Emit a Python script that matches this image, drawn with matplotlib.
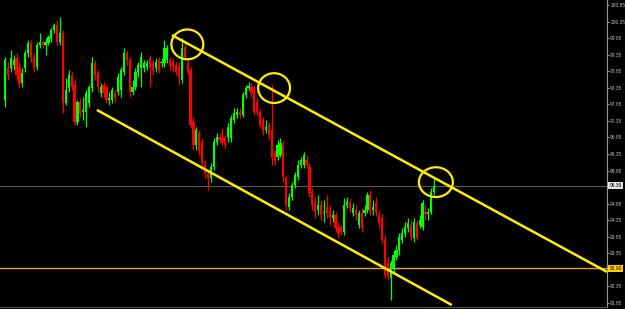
import matplotlib
matplotlib.use("Agg")
import matplotlib.pyplot as plt
import matplotlib.transforms as mtransforms
from matplotlib.patches import Ellipse
import numpy as np

# OHLC candles (price units)
opens = [97.98, 98.95, 98.95, 99.04, 99.25, 98.98, 98.49, 98.95, 99.40, 99.70,
         99.28, 98.98, 99.64, 99.73, 99.64, 99.70, 99.85, 100.09, 100.25, 99.73,
         100.00, 97.89, 98.34, 98.73, 98.43, 97.32, 97.92, 97.62, 97.62, 97.89,
         98.34, 99.10, 98.80, 98.19, 98.43, 98.37, 97.98, 97.98, 98.19, 98.22,
         98.28, 98.83, 99.40, 99.19, 98.22, 98.37, 98.83, 98.95, 98.95, 98.98,
         99.25, 99.10, 98.95, 99.19, 99.10, 99.10, 99.19, 99.19, 99.13, 99.04,
         98.98, 98.58, 99.58, 99.10, 98.89, 97.32, 96.62, 96.98, 96.71, 96.02,
         95.78, 95.62, 95.96, 96.71, 96.86, 96.83, 96.83, 96.86, 96.83, 97.38,
         97.53, 97.62, 97.53, 98.13, 98.34, 98.37, 98.34, 97.92, 97.62, 97.38,
         97.07, 97.23, 97.07, 96.38, 96.26, 96.32, 96.62, 95.62, 94.75, 95.05,
         95.41, 95.65, 96.02, 96.02, 96.17, 95.96, 95.20, 94.87, 94.66, 94.81,
         94.57, 94.75, 94.66, 94.42, 94.51, 94.15, 94.12, 93.99, 94.81, 94.90,
         94.57, 94.66, 94.21, 94.57, 94.57, 94.66, 95.11, 94.66, 94.87, 94.51,
         94.42, 93.75, 93.06, 92.60, 92.91, 93.24, 93.45, 93.75, 93.96, 94.12,
         94.21, 93.81, 94.27, 94.21, 94.15, 94.60, 94.54, 94.60, 95.20]
highs = [99.28, 99.13, 99.49, 99.34, 99.40, 99.13, 98.95, 99.49, 99.79, 99.79,
         99.40, 99.73, 100.00, 99.79, 99.85, 99.94, 100.15, 100.31, 100.40, 100.49,
         100.09, 98.64, 98.89, 98.83, 98.58, 97.98, 98.04, 98.07, 98.28, 98.43,
         99.28, 99.19, 98.89, 98.49, 98.52, 98.43, 98.22, 98.37, 98.28, 98.80,
         98.98, 99.55, 99.49, 99.28, 98.58, 98.95, 99.13, 99.43, 99.19, 99.19,
         99.34, 99.19, 99.25, 99.28, 99.25, 99.79, 99.64, 99.28, 99.25, 99.13,
         99.13, 99.85, 99.70, 99.25, 98.98, 97.47, 97.17, 97.07, 96.83, 96.17,
         95.87, 96.08, 96.83, 96.98, 96.98, 97.13, 96.92, 97.29, 97.53, 97.74,
         97.74, 97.74, 98.22, 98.43, 98.52, 98.49, 98.43, 98.04, 97.74, 97.47,
         97.38, 97.32, 98.43, 96.47, 96.77, 96.83, 96.77, 95.72, 95.17, 95.50,
         95.81, 96.17, 96.26, 96.41, 96.32, 96.08, 95.32, 95.05, 95.11, 94.96,
         94.96, 95.11, 94.81, 94.66, 94.60, 94.30, 94.21, 95.02, 95.05, 95.02,
         94.87, 94.81, 94.66, 94.72, 94.81, 95.20, 95.26, 94.96, 95.05, 94.66,
         94.54, 93.90, 93.24, 93.15, 93.45, 93.60, 93.96, 94.12, 94.30, 94.42,
         94.36, 94.42, 94.36, 94.51, 94.96, 94.81, 94.72, 95.32, 95.62]
lows = [97.77, 98.58, 98.83, 98.89, 98.58, 98.34, 98.37, 98.83, 99.28, 99.13,
        98.83, 98.89, 99.55, 99.55, 99.34, 99.64, 99.73, 100.00, 99.64, 99.64,
        97.59, 97.83, 98.22, 98.28, 97.23, 97.23, 97.47, 97.38, 97.17, 97.77,
        98.22, 98.58, 98.22, 98.07, 98.07, 97.89, 97.83, 97.89, 97.92, 98.13,
        98.07, 98.73, 99.04, 98.07, 98.13, 98.28, 98.67, 98.37, 98.83, 98.89,
        98.37, 98.73, 98.83, 98.80, 98.98, 98.98, 99.10, 98.89, 98.83, 98.73,
        98.43, 98.49, 99.19, 98.73, 97.13, 96.47, 96.47, 96.32, 95.93, 95.62,
        95.26, 95.50, 95.87, 96.62, 96.68, 96.62, 96.53, 96.71, 96.71, 97.29,
        97.44, 97.44, 97.47, 98.04, 98.28, 98.07, 97.53, 97.50, 97.13, 96.92,
        96.98, 96.77, 96.02, 96.02, 96.17, 96.26, 95.50, 94.66, 94.66, 94.96,
        95.32, 95.56, 95.93, 95.93, 95.93, 95.05, 94.66, 94.42, 94.51, 94.36,
        94.30, 94.42, 94.21, 94.30, 93.99, 93.81, 93.90, 93.90, 94.72, 94.60,
        94.48, 94.36, 94.12, 93.99, 94.48, 94.57, 94.51, 94.51, 94.48, 94.15,
        93.66, 92.60, 92.54, 91.94, 92.79, 93.15, 93.30, 93.66, 93.84, 93.99,
        93.75, 93.69, 93.75, 94.12, 94.05, 94.36, 94.36, 94.54, 95.11]
closes = [99.19, 98.73, 99.25, 99.19, 98.73, 98.49, 98.80, 99.40, 99.70, 99.28,
          98.95, 99.64, 99.73, 99.64, 99.73, 99.88, 100.09, 100.25, 99.73, 100.00,
          97.89, 98.28, 98.73, 98.37, 97.32, 97.92, 97.59, 97.68, 98.19, 98.37,
          99.10, 98.73, 98.37, 98.37, 98.19, 97.98, 98.04, 98.28, 98.04, 98.67,
          98.89, 99.40, 99.19, 98.22, 98.37, 98.83, 99.04, 99.28, 99.10, 99.10,
          98.95, 98.89, 99.13, 98.89, 99.13, 99.55, 99.55, 99.01, 98.98, 98.83,
          98.64, 99.55, 99.28, 98.83, 97.23, 96.62, 97.07, 96.47, 96.08, 95.78,
          95.62, 95.96, 96.71, 96.86, 96.77, 96.71, 96.62, 97.17, 97.44, 97.59,
          97.62, 97.53, 98.13, 98.34, 98.40, 98.19, 97.62, 97.62, 97.23, 97.07,
          97.17, 96.92, 96.23, 96.17, 96.62, 96.68, 95.65, 94.81, 95.05, 95.41,
          95.72, 96.02, 96.17, 96.32, 96.02, 95.17, 94.81, 94.60, 94.81, 94.51,
          94.60, 94.57, 94.42, 94.51, 94.12, 93.96, 94.02, 94.81, 94.90, 94.72,
          94.72, 94.51, 94.57, 94.12, 94.66, 95.11, 94.60, 94.75, 94.60, 94.27,
          93.75, 92.70, 92.63, 93.06, 93.30, 93.45, 93.84, 93.96, 94.15, 94.27,
          93.84, 94.30, 93.81, 94.36, 94.87, 94.54, 94.60, 95.20, 95.39]

# channel lines (bar index, price) and marked touches
upper_x = [57.6, 207.6]
upper_y = [99.94, 92.79]
lower_x = [31.7, 154.1]
lower_y = [97.68, 91.79]
touch_x = [62.9, 92.8, 148.6]
touch_y = [99.66, 98.34, 95.50]

bid_price = 95.39
level_price = 92.90
tick_values = [100.85, 100.35, 99.85, 99.35, 98.85, 98.35, 97.85, 97.35, 96.85,
               96.35, 95.85, 94.85, 94.35, 93.85, 93.35, 92.35, 91.85]

label_font = ["Liberation Sans", "DejaVu Sans"]
label_size = 3.5

fig = plt.figure(figsize=(6.25, 3.09), dpi=100, facecolor="black")
ax = fig.add_axes([0, 2 / 309, 607 / 625, 307 / 309], facecolor="black")

o = np.array(opens)
c = np.array(closes)
idx = np.arange(len(o))
up = c >= o
colors = np.where(up, "#00ff00", "#ff0000")

ax.vlines(idx, lows, highs, colors=colors, linewidth=0.9, zorder=2)
body_bottom = np.minimum(o, c)
body_height = np.maximum(np.abs(c - o), 0.02)
ax.bar(idx, body_height, bottom=body_bottom, width=0.75, color=colors,
       linewidth=0, zorder=3)

ax.axhline(bid_price, color="#555555", linewidth=0.9, zorder=1)
ax.axhline(level_price, color="#e0aa00", linewidth=1.0, zorder=1)

ax.plot(upper_x, upper_y, color="#ffee00", linewidth=1.8, zorder=4,
        solid_capstyle="butt")
ax.plot(lower_x, lower_y, color="#ffee00", linewidth=1.8, zorder=4,
        solid_capstyle="butt")
for i, (tx, ty) in enumerate(zip(touch_x, touch_y)):
    w = 11.7 if i == 2 else 11.0
    ax.add_patch(Ellipse((tx, ty), w, 0.9, fill=False, edgecolor="#ffee00",
                         linewidth=1.6, zorder=5))

ax.set_xlim(-1.7, 207.6)
ax.set_ylim(91.73, 101.00)

ax.yaxis.tick_right()
ax.set_yticks(tick_values)
ax.set_yticklabels([f"{v:.2f}" for v in tick_values], family=label_font)
ax.tick_params(axis="y", colors="#bbbbbb", labelsize=label_size, length=1.5,
               width=0.6, pad=0.8)
ax.set_xticks([])
for side in ["top", "left"]:
    ax.spines[side].set_visible(False)
ax.spines["right"].set_color("#9a9a9a")
ax.spines["right"].set_linewidth(0.8)
ax.spines["bottom"].set_color("#555555")
ax.spines["bottom"].set_linewidth(0.8)

trans = mtransforms.blended_transform_factory(ax.transAxes, ax.transData)
ax.text(1.004, bid_price, f"{bid_price:.2f}", transform=trans,
        fontsize=label_size, family=label_font, color="black", va="center",
        ha="left", clip_on=False,
        bbox=dict(boxstyle="square,pad=0.2", fc="#e6e6e6", ec="none"))
ax.text(1.004, level_price, f"{level_price:.2f}", transform=trans,
        fontsize=label_size, family=label_font, color="black", va="center",
        ha="left", clip_on=False,
        bbox=dict(boxstyle="square,pad=0.2", fc="#ffd000", ec="none"))

fig.savefig("out.png", dpi=100, facecolor="black")
